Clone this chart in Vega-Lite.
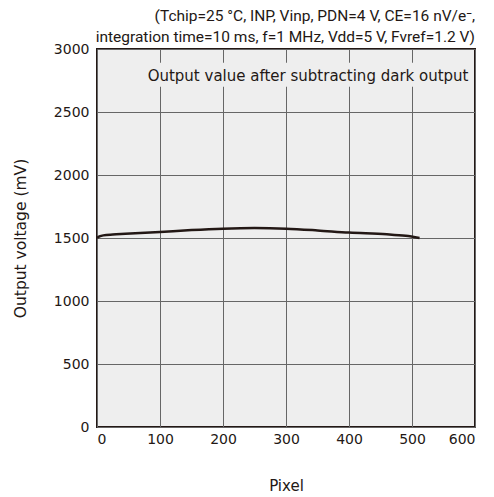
{
  "$schema": "https://vega.github.io/schema/vega-lite/v6.json",
  "width": 378,
  "height": 378,
  "autosize": {"type": "none"},
  "padding": {"left": 97, "top": 49, "right": 19, "bottom": 70},
  "background": "white",
  "config": {
    "view": {"fill": "#eeeeee", "stroke": "#231815", "strokeWidth": 2},
    "font": "DejaVu Sans"
  },
  "title": {
    "text": ["(Tchip=25 °C, INP, Vinp, PDN=4 V, CE=16 nV/e⁻,", "integration time=10 ms, f=1 MHz, Vdd=5 V, Fvref=1.2 V)"],
    "anchor": "end",
    "font": "Roboto",
    "fontSize": 15.5,
    "fontWeight": "normal",
    "color": "#231815",
    "lineHeight": 21,
    "offset": -3
  },
  "layer": [
    {
      "data": {"values": [
        {"pixel": 0, "mv": 1500},
        {"pixel": 4, "mv": 1512},
        {"pixel": 10, "mv": 1521},
        {"pixel": 25, "mv": 1528},
        {"pixel": 45, "mv": 1533},
        {"pixel": 100, "mv": 1548},
        {"pixel": 150, "mv": 1563},
        {"pixel": 200, "mv": 1574},
        {"pixel": 250, "mv": 1579},
        {"pixel": 300, "mv": 1574},
        {"pixel": 350, "mv": 1560},
        {"pixel": 400, "mv": 1543},
        {"pixel": 460, "mv": 1530},
        {"pixel": 490, "mv": 1517},
        {"pixel": 512, "mv": 1500}
      ]},
      "mark": {"type": "line", "interpolate": "monotone", "color": "#231815", "strokeWidth": 2.5},
      "encoding": {
        "x": {
          "field": "pixel", "type": "quantitative",
          "scale": {"domain": [0, 600], "nice": false},
          "axis": {
            "values": [0, 100, 200, 300, 400, 500, 600],
            "format": "d",
            "title": "Pixel",
            "titleFont": "DejaVu Sans", "titleFontSize": 15, "titleFontWeight": "normal", "titleColor": "#231815",
            "titlePadding": 32,
            "labelFont": "DejaVu Sans", "labelFontSize": 14, "labelColor": "#231815", "labelPadding": 5,
            "ticks": false, "domain": false,
            "grid": true, "gridColor": "#666666", "gridWidth": 1
          }
        },
        "y": {
          "field": "mv", "type": "quantitative",
          "scale": {"domain": [0, 3000], "nice": false},
          "axis": {
            "values": [0, 500, 1000, 1500, 2000, 2500, 3000],
            "format": "d",
            "title": "Output voltage (mV)",
            "titleFont": "DejaVu Sans", "titleFontSize": 15.5, "titleFontWeight": "normal", "titleColor": "#231815",
            "titlePadding": 25,
            "labelFont": "DejaVu Sans", "labelFontSize": 14, "labelColor": "#231815", "labelPadding": 8,
            "ticks": false, "domain": false,
            "grid": true, "gridColor": "#666666", "gridWidth": 1
          }
        }
      }
    },
    {
      "data": {"values": [{"x1": 78, "x2": 592, "y1": 2700, "y2": 2890}]},
      "mark": {"type": "rect", "color": "#eeeeee"},
      "encoding": {
        "x": {"field": "x1", "type": "quantitative"},
        "x2": {"field": "x2"},
        "y": {"field": "y1", "type": "quantitative"},
        "y2": {"field": "y2"}
      }
    },
    {
      "data": {"values": [{"pixel": 335, "mv": 2785, "label": "Output value after subtracting dark output"}]},
      "mark": {"type": "text", "font": "DejaVu Sans", "fontSize": 15, "color": "#231815", "align": "center", "baseline": "middle"},
      "encoding": {
        "x": {"field": "pixel", "type": "quantitative"},
        "y": {"field": "mv", "type": "quantitative"},
        "text": {"field": "label"}
      }
    }
  ]
}
